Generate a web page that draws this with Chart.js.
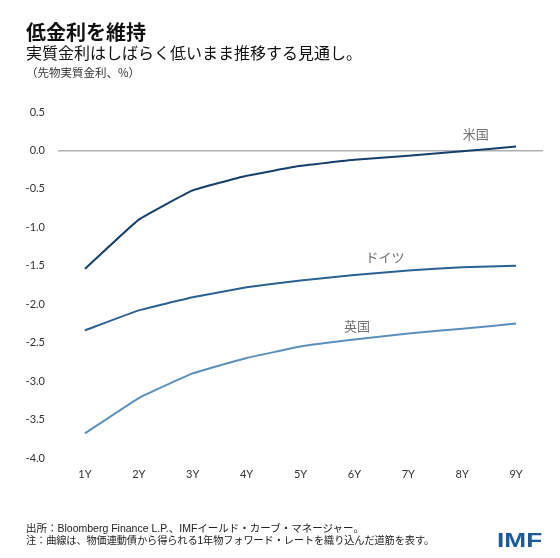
<!DOCTYPE html>
<html>
<head>
<meta charset="utf-8">
<script src="https://cdn.jsdelivr.net/npm/chart.js@4"></script>
<style>
  body { margin: 0; background: #fff; }
  .wrap { position: relative; width: 560px; height: 558px; overflow: hidden; }
  canvas { position: absolute; left: 0; top: 0; }
  .txt { position: absolute; left: 26px; font-family: "Liberation Sans", "Noto Sans CJK JP", sans-serif; color: #111; white-space: nowrap; }
  .title { top: 22px; font-size: 20px; line-height: 20px; font-weight: bold; font-family: "Noto Sans CJK JP", sans-serif; }
  .sub { top: 44px; font-size: 16px; line-height: 16px; font-family: "Noto Sans CJK JP", sans-serif; }
  .unit { top: 67px; font-size: 11.5px; line-height: 11.5px; color: #333; font-family: "Noto Sans CJK JP", sans-serif; }
  .foot { font-size: 10.5px; line-height: 10.5px; color: #222; }
  .logo { position: absolute; left: 497px; top: 529px; font-family: "Liberation Sans", Arial, sans-serif; font-weight: bold; font-size: 21px; line-height: 21px; color: #1d5a9c; transform: scaleX(1.25); transform-origin: left top; }
</style>
</head>
<body>
<div class="wrap">
  <canvas id="rateChart" width="560" height="558"></canvas>
  <div class="txt title">低金利を維持</div>
  <div class="txt sub">実質金利はしばらく低いまま推移する見通し。</div>
  <div class="txt unit">（先物実質金利、%）</div>
  <div class="txt foot" style="top:523px">出所：Bloomberg Finance L.P.、IMFイールド・カーブ・マネージャー。</div>
  <div class="txt foot" style="top:536px; font-size:10.2px; letter-spacing:-0.1px">注：曲線は、物価連動債から得られる1年物フォワード・レートを織り込んだ道筋を表す。</div>
  <div class="logo">IMF</div>
</div>
<script>
const years = ['1Y', '2Y', '3Y', '4Y', '5Y', '6Y', '7Y', '8Y', '9Y'];
const usRates = [-1.54, -0.90, -0.52, -0.33, -0.20, -0.12, -0.07, -0.01, 0.05];
const deRates = [-2.34, -2.08, -1.91, -1.78, -1.69, -1.62, -1.56, -1.52, -1.50];
const ukRates = [-3.68, -3.22, -2.90, -2.70, -2.55, -2.46, -2.38, -2.32, -2.25];
const seriesNames = ['米国', 'ドイツ', '英国'];
// label anchors: category index and value
const labelIdx = [7.25, 5.57, 5.05];
const labelVal = [0.21, -1.39, -2.29];

const lineLabels = {
    id: 'lineLabels',
    afterDatasetsDraw(chart) {
        const { ctx, scales } = chart;
        ctx.save();
        ctx.font = '13px "Noto Sans CJK JP"';
        ctx.fillStyle = '#707070';
        ctx.textAlign = 'center';
        ctx.textBaseline = 'middle';
        seriesNames.forEach((name, i) => {
            const x0 = scales.x.getPixelForValue(Math.floor(labelIdx[i]));
            const x1 = scales.x.getPixelForValue(Math.floor(labelIdx[i]) + 1);
            const x = x0 + (x1 - x0) * (labelIdx[i] % 1);
            ctx.fillText(name, x, scales.y.getPixelForValue(labelVal[i]));
        });
        ctx.restore();
    }
};

new Chart(document.getElementById('rateChart').getContext('2d'), {
    type: 'line',
    data: {
        labels: years,
        datasets: [
            { data: usRates, borderColor: '#173f6b', borderWidth: 2, pointRadius: 0, tension: 0.1 },
            { data: deRates, borderColor: '#2d6193', borderWidth: 2, pointRadius: 0, tension: 0.1 },
            { data: ukRates, borderColor: '#5d8fbb', borderWidth: 2, pointRadius: 0, tension: 0.1 }
        ]
    },
    options: {
        responsive: false,
        animation: false,
        layout: { padding: { top: 112, right: 17, bottom: 0, left: 0 } },
        plugins: { legend: { display: false }, tooltip: { enabled: false } },
        scales: {
            x: {
                offset: true,
                grid: { display: false, drawTicks: false },
                border: { display: false },
                ticks: { padding: 10, color: '#333', font: { family: 'Lato', size: 11 } },
                afterFit: (s) => { s.height = 100; }
            },
            y: {
                min: -4, max: 0.5,
                grid: {
                    drawTicks: false,
                    color: (c) => (c.tick && c.tick.value === 0 ? '#b0b0b0' : 'transparent'),
                    lineWidth: 1.5
                },
                border: { display: false },
                ticks: { stepSize: 0.5, padding: 13, color: '#333', font: { family: 'Lato', size: 11 },
                    callback: (v) => v.toFixed(1) },
                afterFit: (s) => { s.width = 58; }
            }
        }
    },
    plugins: [lineLabels]
});
</script>
</body>
</html>
